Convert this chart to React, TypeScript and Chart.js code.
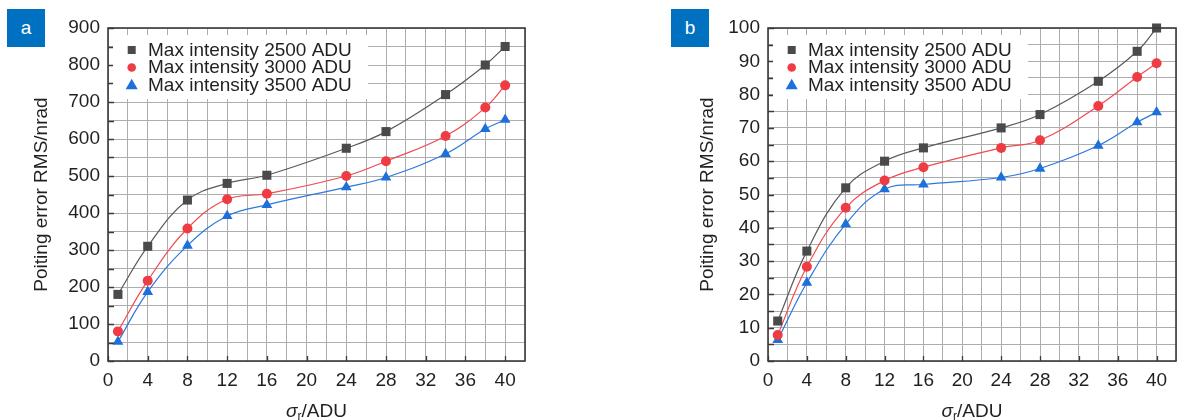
import React, { useEffect, useRef } from 'react';
import { Chart, registerables } from 'chart.js';

Chart.register(...registerables);

// ---------- data ----------
const xValues = [1, 4, 8, 12, 16, 24, 28, 34, 38, 40];
const seriesLabels = ['Max intensity 2500 ADU', 'Max intensity 3000 ADU', 'Max intensity 3500 ADU'];

const a2500 = [180, 310, 435, 480, 502, 575, 620, 720, 800, 850];
const a3000 = [80, 217, 358, 437, 452, 500, 540, 608, 685, 745];
const a3500 = [52, 187, 312, 392, 422, 470, 496, 560, 627, 652];

const b2500 = [12, 33, 52, 60, 64, 70, 74, 84, 93, 100];
const b3000 = [7.8, 28.3, 46, 54.2, 58.2, 64, 66.3, 76.6, 85.3, 89.4];
const b3500 = [6.3, 23.5, 41.1, 51.6, 53, 55.1, 57.8, 64.7, 71.7, 74.7];

const xTickLabels = [0, 4, 8, 12, 16, 20, 24, 28, 32, 36, 40];
const yTickLabelsA = [0, 100, 200, 300, 400, 500, 600, 700, 800, 900];
const yTickLabelsB = [0, 10, 20, 30, 40, 50, 60, 70, 80, 90, 100];

const yTitle = 'Poiting error RMS/nrad';
const panelLetters = ['a', 'b'];

// ---------- styles ----------
const FONT = "'Liberation Sans', Arial, Helvetica, sans-serif";
const TEXT = '#231f20';
const GRID = '#adadad';
const FRAME = '#3a3a3a';
const SERIES_STYLE = [
  { line: '#5a5a5a', fill: '#4a4a4a', shape: 'rect', r: 6.4 },
  { line: '#f04a50', fill: '#ef3b42', shape: 'circle', r: 5 },
  { line: '#2a78de', fill: '#1d6fd9', shape: 'triangle', r: 6.2 },
];

const H = 420;
const CHART_TOP = 28;
const CHART_BOTTOM = 361;

type PanelCfg = {
  canvasLeft: number;
  canvasWidth: number;
  chartLeft: number; // local
  chartRight: number; // local
  yMax: number;
  yStep: number;
  yLabels: number[];
  series: number[][];
  yTitleX: number; // local
};

const panels: PanelCfg[] = [
  {
    canvasLeft: 0,
    canvasWidth: 580,
    chartLeft: 108,
    chartRight: 525,
    yMax: 900,
    yStep: 50,
    yLabels: yTickLabelsA,
    series: [a2500, a3000, a3500],
    yTitleX: 42,
  },
  {
    canvasLeft: 600,
    canvasWidth: 584,
    chartLeft: 168,
    chartRight: 583,
    yMax: 100,
    yStep: 5,
    yLabels: yTickLabelsB,
    series: [b2500, b3000, b3500],
    yTitleX: 108,
  },
];

function drawMarker(ctx: CanvasRenderingContext2D, shape: string, x: number, y: number, size: number, color: string) {
  ctx.save();
  ctx.fillStyle = color;
  ctx.beginPath();
  if (shape === 'rect') {
    ctx.rect(x - size / 2, y - size / 2, size, size);
  } else if (shape === 'circle') {
    ctx.arc(x, y, size / 2, 0, Math.PI * 2);
  } else {
    const w = size * 1.15;
    const h = size;
    ctx.moveTo(x, y - h * 0.6);
    ctx.lineTo(x + w / 2, y + h * 0.4);
    ctx.lineTo(x - w / 2, y + h * 0.4);
    ctx.closePath();
  }
  ctx.fill();
  ctx.restore();
}

function Panel({ cfg }: { cfg: PanelCfg }) {
  const ref = useRef<HTMLCanvasElement | null>(null);

  useEffect(() => {
    const canvas = ref.current;
    if (!canvas) return;

    const decor = {
      id: 'decor',
      afterDraw(chart: any) {
        const ctx: CanvasRenderingContext2D = chart.ctx;
        const { left, top, right, bottom } = chart.chartArea;
        const xs = chart.scales.x;
        const ys = chart.scales.y;
        ctx.save();

        // inward ticks
        ctx.strokeStyle = FRAME;
        ctx.lineWidth = 1.3;
        ctx.beginPath();
        xTickLabels.forEach((v) => {
          const px = Math.round(xs.getPixelForValue(v)) + 0.5;
          ctx.moveTo(px, bottom);
          ctx.lineTo(px, bottom - 5);
        });
        for (let v = 0; v <= cfg.yMax; v += cfg.yStep) {
          const py = Math.round(ys.getPixelForValue(v)) + 0.5;
          ctx.moveTo(left, py);
          ctx.lineTo(left + 6, py);
        }
        ctx.stroke();

        // frame
        ctx.lineWidth = 1.6;
        ctx.strokeStyle = FRAME;
        ctx.strokeRect(left, top, right - left, bottom - top);

        // legend
        ctx.fillStyle = '#ffffff';
        ctx.fillRect(left + 5, 35, 255, 64);
        const baselines = [55.5, 73, 90.5];
        ctx.font = `19px ${FONT}`;
        ctx.textAlign = 'left';
        ctx.textBaseline = 'alphabetic';
        seriesLabels.forEach((lab, i) => {
          const st = SERIES_STYLE[i];
          const size = st.shape === 'rect' ? 8 : st.shape === 'circle' ? 8.6 : 10.5;
          drawMarker(ctx, st.shape, left + 23.7, baselines[i] - 5.5, size, st.fill);
          ctx.fillStyle = TEXT;
          ctx.fillText(lab, left + 40, baselines[i]);
        });

        // x title: σr/ADU
        const cx = (left + right) / 2;
        const by = 417;
        ctx.font = `italic 19px ${FONT}`;
        const wSig = ctx.measureText('σ').width;
        ctx.font = `12px ${FONT}`;
        const wR = ctx.measureText('r').width;
        ctx.font = `19px ${FONT}`;
        const wRest = ctx.measureText('/ADU').width;
        let sx = cx - (wSig + wR + wRest) / 2;
        ctx.fillStyle = TEXT;
        ctx.font = `italic 19px ${FONT}`;
        ctx.fillText('σ', sx, by);
        sx += wSig;
        ctx.font = `12px ${FONT}`;
        ctx.fillText('r', sx, by + 3);
        sx += wR;
        ctx.font = `19px ${FONT}`;
        ctx.fillText('/ADU', sx, by);

        // y title
        ctx.translate(cfg.yTitleX, (top + bottom) / 2);
        ctx.rotate(-Math.PI / 2);
        ctx.textAlign = 'center';
        ctx.textBaseline = 'middle';
        ctx.font = `19px ${FONT}`;
        ctx.fillText(yTitle, 0, 0);
        ctx.restore();
      },
    };

    const chart = new Chart(canvas, {
      type: 'line',
      data: {
        datasets: cfg.series.map((vals, i) => {
          const st = SERIES_STYLE[i];
          return {
            label: seriesLabels[i],
            data: xValues.map((x, k) => ({ x, y: vals[k] })),
            borderColor: st.line,
            borderWidth: 1.2,
            backgroundColor: st.fill,
            pointBackgroundColor: st.fill,
            pointBorderColor: st.fill,
            pointBorderWidth: 0,
            pointStyle: st.shape as any,
            pointRadius: st.r,
            pointHoverRadius: st.r,
            tension: 0.4,
            clip: false as any,
          };
        }),
      },
      options: {
        responsive: false,
        animation: false,
        devicePixelRatio: 1,
        layout: {
          padding: { left: 0, top: CHART_TOP, right: cfg.canvasWidth - cfg.chartRight, bottom: 0 },
        },
        plugins: {
          legend: { display: false },
          tooltip: { enabled: false },
        },
        scales: {
          x: {
            type: 'linear',
            min: 0,
            max: 42,
            afterFit: (s: any) => {
              s.height = H - CHART_BOTTOM;
            },
            ticks: {
              stepSize: 2,
              autoSkip: false,
              maxRotation: 0,
              padding: 8,
              color: TEXT,
              font: { family: FONT, size: 19 },
              callback: (v: any) => (xTickLabels.includes(Number(v)) ? String(v) : ''),
            },
            grid: { color: GRID, lineWidth: 1, drawTicks: false },
            border: { display: false },
          },
          y: {
            type: 'linear',
            min: 0,
            max: cfg.yMax,
            afterFit: (s: any) => {
              s.width = cfg.chartLeft;
            },
            ticks: {
              stepSize: cfg.yStep,
              autoSkip: false,
              padding: 8,
              color: TEXT,
              font: { family: FONT, size: 19 },
              callback: (v: any) => (cfg.yLabels.includes(Number(v)) ? String(v) : ''),
            },
            grid: { color: GRID, lineWidth: 1, drawTicks: false },
            border: { display: false },
          },
        },
      },
      plugins: [decor],
    });

    return () => chart.destroy();
  }, [cfg]);

  return (
    <canvas
      ref={ref}
      width={cfg.canvasWidth}
      height={H}
      style={{ position: 'absolute', left: cfg.canvasLeft, top: 0, width: cfg.canvasWidth, height: H }}
    />
  );
}

const letterBoxes = [
  { left: 7, letter: panelLetters[0] },
  { left: 671, letter: panelLetters[1] },
];

export default function App() {
  return (
    <div
      style={{
        position: 'fixed',
        left: 0,
        top: 0,
        width: 1184,
        height: H,
        background: '#ffffff',
        overflow: 'hidden',
      }}
    >
      {panels.map((p, i) => (
        <Panel key={i} cfg={p} />
      ))}
      {letterBoxes.map((b, i) => (
        <div
          key={i}
          style={{
            position: 'absolute',
            left: b.left,
            top: 9,
            width: 38,
            height: 38,
            background: '#0070c0',
            color: '#ffffff',
            fontFamily: FONT,
            fontSize: 19,
            display: 'flex',
            alignItems: 'center',
            justifyContent: 'center',
          }}
        >
          {b.letter}
        </div>
      ))}
    </div>
  );
}
